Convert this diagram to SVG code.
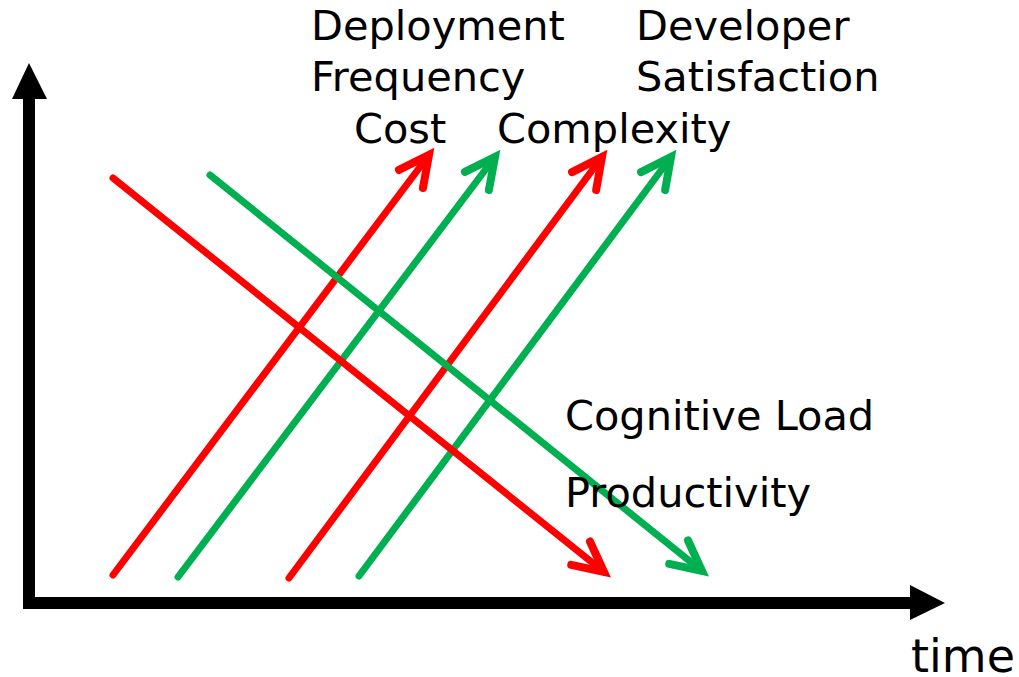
<svg xmlns="http://www.w3.org/2000/svg" width="1019" height="677" viewBox="0 0 1019 677">
<style>
.lbl{font-family:"DejaVu Sans","Verdana",sans-serif;font-size:41.5px;fill:#000}
.r{stroke:#ff0000;stroke-width:7;fill:none;stroke-linecap:round}
.g{stroke:#00b050;stroke-width:7;fill:none;stroke-linecap:round}
</style>
<defs>
<marker id="hr" markerUnits="userSpaceOnUse" orient="auto" refX="0" refY="0" markerWidth="60" markerHeight="60" overflow="visible">
<path d="M -30 -15 L 0 0 L -30 15" fill="none" stroke="#ff0000" stroke-width="8" stroke-linecap="round" stroke-linejoin="miter"/>
</marker>
<marker id="hg" markerUnits="userSpaceOnUse" orient="auto" refX="0" refY="0" markerWidth="60" markerHeight="60" overflow="visible">
<path d="M -30 -15 L 0 0 L -30 15" fill="none" stroke="#00b050" stroke-width="8" stroke-linecap="round" stroke-linejoin="miter"/>
</marker>
</defs>
<g id="axes">
<line x1="29" y1="609" x2="29" y2="95" stroke="#000" stroke-width="12"/>
<polygon points="12,99 29,63 47,99" fill="#000"/>
<line x1="23" y1="603" x2="914" y2="603" stroke="#000" stroke-width="12"/>
<polygon points="910,585 945,603 910,620" fill="#000"/>
</g>
<g id="connectors">
<line class="r" x1="113" y1="575" x2="429" y2="155" marker-end="url(#hr)"/>
<line class="g" x1="178" y1="577" x2="495" y2="157" marker-end="url(#hg)"/>
<line class="r" x1="289" y1="578" x2="602" y2="157" marker-end="url(#hr)"/>
<line class="g" x1="359" y1="576" x2="671" y2="157" marker-end="url(#hg)"/>
<line class="r" x1="113" y1="178" x2="604" y2="572" marker-end="url(#hr)"/>
<line class="g" x1="210" y1="175" x2="702" y2="571" marker-end="url(#hg)"/>
</g>
<g id="labels">
<text class="lbl" x="311" y="40">Deployment</text>
<text class="lbl" x="311" y="91">Frequency</text>
<text class="lbl" x="354" y="143">Cost</text>
<text class="lbl" x="497" y="143">Complexity</text>
<text class="lbl" x="636" y="40">Developer</text>
<text class="lbl" x="636" y="91">Satisfaction</text>
<text class="lbl" x="565" y="430">Cognitive Load</text>
<text class="lbl" x="565" y="507">Productivity</text>
<text class="lbl" x="911" y="672" style="font-size:46px">time</text>
</g>
</svg>
